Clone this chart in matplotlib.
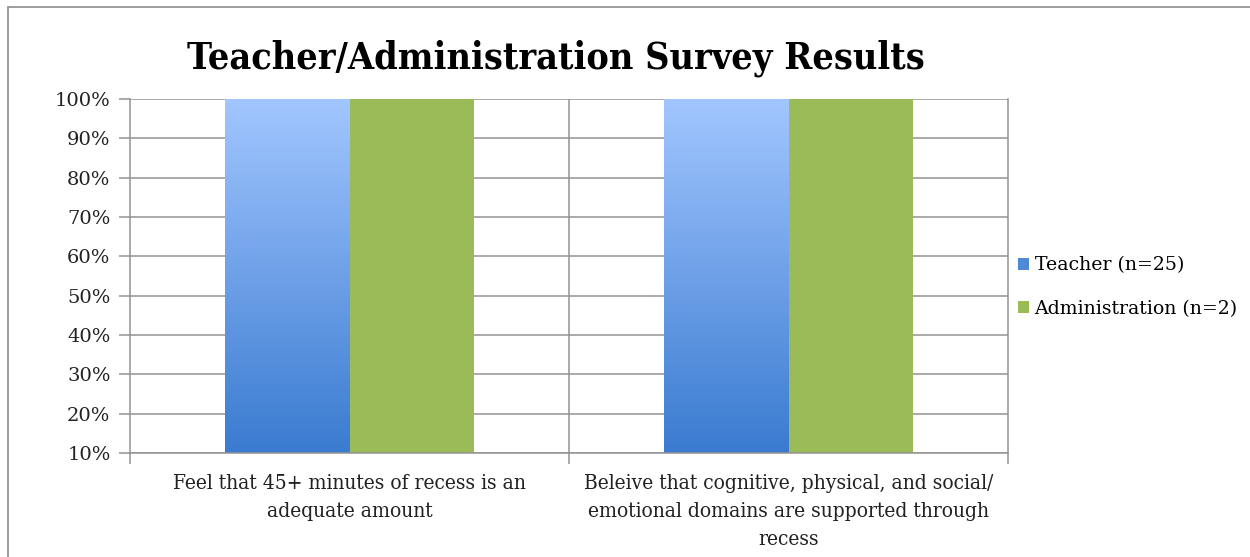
import matplotlib
matplotlib.use("Agg")
import matplotlib.pyplot as plt
import numpy as np
from matplotlib.colors import LinearSegmentedColormap
from matplotlib.patches import Rectangle, Patch

categories = ["Feel that 45+ minutes of recess is an\nadequate amount",
              "Beleive that cognitive, physical, and social/\nemotional domains are supported through\nrecess"]
teacher = [100, 100]
administration = [100, 100]
series_names = ["Teacher (n=25)", "Administration (n=2)"]
yticks = [10, 20, 30, 40, 50, 60, 70, 80, 90, 100]
title = "Teacher/Administration Survey Results"

serif = ["DejaVu Serif"]

fig = plt.figure(figsize=(12.5, 5.57), dpi=100)
ax = fig.add_axes([130/1250, 1 - 453/557, (1008-130)/1250, (453-99)/557])

# outer frame
fig.patches.append(Rectangle((8/1250, -0.1), 1.2, (557-7)/557 + 0.1, transform=fig.transFigure,
                             fill=False, edgecolor="#8c8c8c", linewidth=1.2))

x = np.arange(len(categories))
w = 0.284
grad = LinearSegmentedColormap.from_list("g", ["#3a7bd0", "#a2c6ff"])
ymin, ymax = 10, 100
for xi, v in zip(x, teacher):
    left = xi - w
    bar = ax.bar(left, v, width=w, align="edge", color="none", zorder=2)[0]
    img = ax.imshow(np.linspace(0, 1, 256).reshape(-1, 1), cmap=grad, origin="lower",
                    extent=[left, left + w, ymin, v], aspect="auto", zorder=2)
    img.set_clip_path(bar)
ax.bar(x, administration, width=w, align="edge", color="#9bbb59", zorder=2)

ax.set_xlim(-0.5, 1.5)
ax.set_ylim(ymin, ymax)
ax.set_yticks(yticks)
ax.set_yticklabels([f"{t}%" for t in yticks], fontsize=14, family=serif, color="#222222")
ax.yaxis.grid(True, color="#939393", linewidth=1.1, zorder=0)
ax.set_axisbelow(True)
ax.axvline(0.5, color="#939393", linewidth=1.1, zorder=1)
ax.set_xticks([-0.5, 0.5, 1.5])
ax.set_xticklabels([])
ax.tick_params(axis="x", length=8, color="#939393", width=1.1)
ax.tick_params(axis="y", length=8, color="#939393", width=1.1, pad=6)
for s in ax.spines.values():
    s.set_color("#939393")
    s.set_linewidth(1.1)
ax.spines["top"].set_visible(False)

for xi, lab in zip(x, categories):
    ax.text(xi, -0.058, lab, transform=ax.get_xaxis_transform(), ha="center", va="top",
            fontsize=15, family=serif, fontstretch="condensed", linespacing=1.6, color="#222222")

fig.text(0.445, 1 - 58/557, title, ha="center", va="center", fontsize=27, fontweight="bold",
         family=serif, fontstretch="condensed", color="black")

handles = [Patch(facecolor="#4f8ad9", edgecolor="none"), Patch(facecolor="#9bbb59", edgecolor="none")]
leg = fig.legend(handles, series_names, loc="center left", bbox_to_anchor=(1010/1250, 1 - 287/557),
                 frameon=False, prop={"family": serif, "size": 13.6}, handlelength=0.6, handleheight=0.6,
                 handletextpad=0.3, labelspacing=1.35, borderaxespad=0)

fig.savefig("out.png", dpi=100)
